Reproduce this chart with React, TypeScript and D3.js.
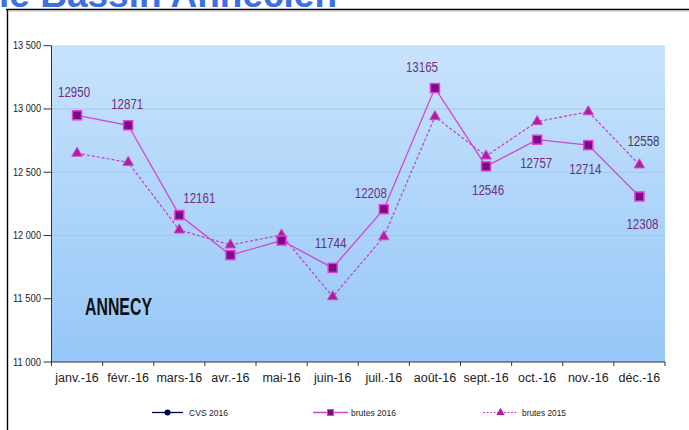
import React from 'react';
import * as d3 from 'd3';

const months = ['janv.-16', 'févr.-16', 'mars-16', 'avr.-16', 'mai-16', 'juin-16', 'juil.-16', 'août-16', 'sept.-16', 'oct.-16', 'nov.-16', 'déc.-16'];
const brutes2016 = [12950, 12871, 12161, 11845, 11960, 11744, 12208, 13165, 12546, 12757, 12714, 12308];
const brutes2015 = [12650, 12578, 12043, 11925, 12004, 11516, 11990, 12939, 12628, 12900, 12978, 12558];
const labels2016 = ['12950', '12871', '12161', '', '', '11744', '12208', '13165', '12546', '12757', '12714', '12308'];
const labels2015 = ['', '', '', '', '', '', '', '', '', '', '', '12558'];
const yTicks = [11000, 11500, 12000, 12500, 13000, 13500];
const yTickLabels = ['11 000', '11 500', '12 000', '12 500', '13 000', '13 500'];
const legendLabels = ['CVS 2016', 'brutes 2016', 'brutes 2015'];
const titleText = 'le Bassin Annecien';
const cityText = 'ANNECY';

// label placement (layout only)
const off2016: [number, number][] = [[-3, -18], [-1, -16], [20, -12], [0, 0], [0, 0], [-2, -20], [-13, -11], [-13, -16], [2, 29], [-1, 28], [-3, 29], [3, 32]];
const off2015: [number, number][] = [[0, 0], [0, 0], [0, 0], [0, 0], [0, 0], [0, 0], [0, 0], [0, 0], [0, 0], [0, 0], [0, 0], [4, -19]];

const W = 689;
const H = 430;
const plotL = 51.5;
const plotR = 665;
const plotT = 45.7;
const plotB = 362;

export default function App() {
  const x = d3.scaleBand<string>().domain(months).range([plotL, plotR]);
  const bw = x.bandwidth();
  const cx = (i: number) => (x(months[i]) as number) + bw / 2;
  const y = d3.scaleLinear().domain([11000, 13500]).range([plotB, plotT]);

  const line = d3.line<number>().x((_, i) => cx(i)).y((d) => y(d));
  const tri = d3.symbol().type(d3.symbolTriangle).size(48)() as string;
  const triSmall = d3.symbol().type(d3.symbolTriangle).size(30)() as string;

  const font = "'Liberation Sans', Arial, sans-serif";
  const labelColor = '#6e2f80';

  const boundaries = months.map((m) => x(m) as number).concat([plotR]);

  return (
    <svg width={W} height={H} style={{ position: 'fixed', left: 0, top: 0 }} fontFamily={font}>
      <defs>
        <linearGradient id="bg" x1="0" y1="0" x2="0" y2="1">
          <stop offset="0" stopColor="#c8e3fc" />
          <stop offset="1" stopColor="#96c7f8" />
        </linearGradient>
      </defs>
      <rect x={0} y={0} width={W} height={H} fill="#ffffff" />
      <text x={337} y={7} textAnchor="end" fontSize={37} fontWeight="bold" fill="#3d6fe3">{titleText}</text>
      <line x1={6} x2={W} y1={9.5} y2={9.5} stroke="#000" strokeWidth={1.6} />
      <line x1={7.5} x2={7.5} y1={9} y2={H} stroke="#000" strokeWidth={1.4} />
      <line x1={9} x2={W} y1={11.5} y2={11.5} stroke="#dddddd" strokeWidth={1} />

      <rect x={plotL} y={plotT} width={plotR - plotL} height={plotB - plotT} fill="url(#bg)" />
      <line x1={plotL} x2={plotR} y1={plotT + 0.5} y2={plotT + 0.5} stroke="#b4d6f2" strokeWidth={1} />
      {yTicks.slice(1, -1).map((t) => (
        <line key={t} x1={plotL} x2={plotR} y1={y(t)} y2={y(t)} stroke="#a3c9ea" strokeWidth={1} />
      ))}

      {/* axes */}
      <line x1={plotL} x2={plotL} y1={plotT} y2={plotB} stroke="#333" strokeWidth={1} />
      <line x1={plotL} x2={plotR} y1={plotB} y2={plotB} stroke="#333" strokeWidth={1} />
      {yTicks.map((t, i) => (
        <g key={t}>
          <line x1={plotL - 8} x2={plotL} y1={y(t)} y2={y(t)} stroke="#333" strokeWidth={1} />
          <text x={41} y={y(t) + 3.5} textAnchor="end" fontSize={10} fill="#222" textLength={28} lengthAdjust="spacingAndGlyphs">{yTickLabels[i]}</text>
        </g>
      ))}
      {boundaries.map((b, i) => (
        <line key={i} x1={b} x2={b} y1={plotB} y2={plotB + 4} stroke="#333" strokeWidth={1} />
      ))}
      {months.map((m, i) => (
        <text key={m} x={cx(i)} y={382} textAnchor="middle" fontSize={12.5} fill="#222">{m}</text>
      ))}

      <text x={85} y={315} fontSize={23} fontWeight="bold" fill="#111" textLength={67} lengthAdjust="spacingAndGlyphs">{cityText}</text>

      {/* brutes 2015 */}
      <path d={line(brutes2015) as string} fill="none" stroke="#c43cc4" strokeWidth={1.2} strokeDasharray="3,2" />
      {/* brutes 2016 */}
      <path d={line(brutes2016) as string} fill="none" stroke="#d046d0" strokeWidth={1.3} />

      {brutes2015.map((v, i) => (
        <path key={'t' + i} d={tri} transform={`translate(${cx(i)},${y(v)})`} fill="#b0209e" stroke="#d64cc8" strokeWidth={1} />
      ))}
      {brutes2016.map((v, i) => (
        <rect key={'s' + i} x={cx(i) - 4.5} y={y(v) - 4.5} width={9} height={9} fill="#7e0a80" stroke="#e03ce0" strokeWidth={1.5} />
      ))}

      {brutes2016.map((v, i) => labels2016[i] ? (
        <text key={'l' + i} x={cx(i) + off2016[i][0]} y={y(v) + off2016[i][1]} textAnchor="middle" fontSize={15} fill={labelColor} textLength={32} lengthAdjust="spacingAndGlyphs">{labels2016[i]}</text>
      ) : null)}
      {brutes2015.map((v, i) => labels2015[i] ? (
        <text key={'k' + i} x={cx(i) + off2015[i][0]} y={y(v) + off2015[i][1]} textAnchor="middle" fontSize={15} fill="#4a3a5a" textLength={32} lengthAdjust="spacingAndGlyphs">{labels2015[i]}</text>
      ) : null)}

      {/* legend */}
      <g>
        <line x1={152} x2={183} y1={412.5} y2={412.5} stroke="#000050" strokeWidth={1.3} />
        <circle cx={167.5} cy={412.5} r={3} fill="#000050" />
        <text x={189} y={415.5} fontSize={9} fill="#222" textLength={39} lengthAdjust="spacingAndGlyphs">{legendLabels[0]}</text>

        <line x1={313} x2={348} y1={412.5} y2={412.5} stroke="#d046d0" strokeWidth={1.3} />
        <rect x={327.5} y={409.5} width={6} height={6} fill="#7e0a80" stroke="#e03ce0" strokeWidth={1} />
        <text x={351} y={415.5} fontSize={9} fill="#222" textLength={45} lengthAdjust="spacingAndGlyphs">{legendLabels[1]}</text>

        <line x1={483} x2={518} y1={412.5} y2={412.5} stroke="#c43cc4" strokeWidth={1} strokeDasharray="2,1.5" />
        <path d={triSmall} transform="translate(500.5,412.5)" fill="#b0209e" />
        <text x={522} y={415.5} fontSize={9} fill="#222" textLength={44} lengthAdjust="spacingAndGlyphs">{legendLabels[2]}</text>
      </g>
    </svg>
  );
}
